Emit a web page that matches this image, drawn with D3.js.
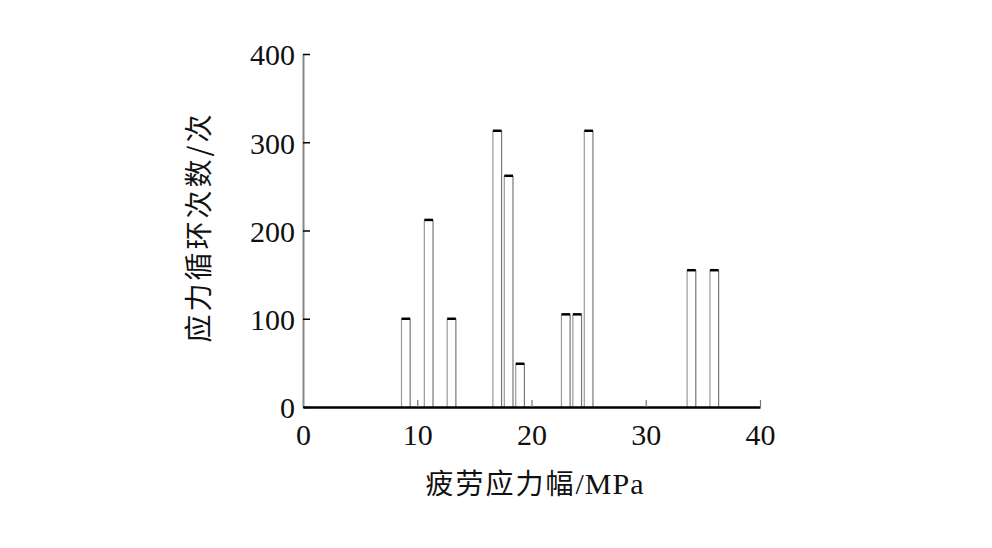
<!DOCTYPE html>
<html><head>
<meta charset="UTF-8">
<script src="https://cdn.jsdelivr.net/npm/d3@7"></script>
<style>
body{margin:0;background:#fff}
.tick text{font-family:"Liberation Serif","DejaVu Serif",serif;font-size:30px;fill:#111}
.lab{font-family:"Noto Sans CJK SC","Liberation Serif",serif;font-size:28px;fill:#111}
</style>
</head><body>
<svg id="chart" width="992" height="548"></svg>
<script>
// 疲劳应力幅 (MPa) and 应力循环次数
var stress = [9, 11, 13, 17, 18, 19, 23, 24, 25, 34, 36];
var cycles = [100, 212, 100, 313, 262, 49, 105, 105, 313, 155, 155];
var xTicks = [0, 10, 20, 30, 40];
var yTicks = [0, 100, 200, 300, 400];
var barW = 0.76; // bar width in MPa

var svg = d3.select("#chart");
var x = d3.scaleLinear().domain([0, 40]).range([303, 760]);
var y = d3.scaleLinear().domain([0, 400]).range([407, 54]);

// bars
var g = svg.append("g");
stress.forEach(function(s, i){
  var x0 = x(s - barW/2), x1 = x(s + barW/2), yt = y(cycles[i]), yb = y(0);
  g.append("rect").attr("x", x0).attr("y", yt).attr("width", x1-x0).attr("height", yb-yt).attr("fill", "#fff");
  g.append("line").attr("x1", x0).attr("x2", x0).attr("y1", yt).attr("y2", yb).attr("stroke", "#999").attr("stroke-width", 1.2);
  g.append("line").attr("x1", x1).attr("x2", x1).attr("y1", yt).attr("y2", yb).attr("stroke", "#777").attr("stroke-width", 1.2);
  g.append("line").attr("x1", x0).attr("x2", x1).attr("y1", yt).attr("y2", yt).attr("stroke", "#000").attr("stroke-width", 2.5);
});

// y axis (ticks pointing inward)
var ya = svg.append("g").attr("transform", "translate(303,0)")
  .call(d3.axisRight(y).tickValues(yTicks).tickSize(7).tickSizeOuter(0));
ya.select(".domain").attr("stroke", "#888").attr("stroke-width", 2);
ya.selectAll(".tick line").attr("stroke", "#000").attr("stroke-width", 1.5);
ya.selectAll(".tick text").attr("x", -8).attr("text-anchor", "end").attr("dy", "0.36em");

// x axis (ticks pointing up)
var xa = svg.append("g").attr("transform", "translate(0,407)")
  .call(d3.axisBottom(x).tickValues(xTicks).tickSize(-7).tickSizeOuter(0));
xa.select(".domain").attr("stroke", "#000").attr("stroke-width", 2.5);
xa.selectAll(".tick line").attr("stroke", "#777").attr("stroke-width", 1.2);
xa.selectAll(".tick").filter(function(d){ return d === 0; }).select("line").remove();
xa.selectAll(".tick text").attr("y", 17).attr("dy", "0.71em");

// axis titles
svg.append("text").attr("class", "lab")
  .attr("x", 535).attr("y", 494).attr("text-anchor", "middle")
  .style("letter-spacing", "2px")
  .html('疲劳应力幅<tspan style="font-family:Liberation Serif;font-size:30px;letter-spacing:1px">/MPa</tspan>');
svg.append("text").attr("class", "lab")
  .attr("transform", "translate(209,227) rotate(-90)").attr("text-anchor", "middle")
  .style("letter-spacing", "3px")
  .text("应力循环次数/次");
</script>
</body></html>
